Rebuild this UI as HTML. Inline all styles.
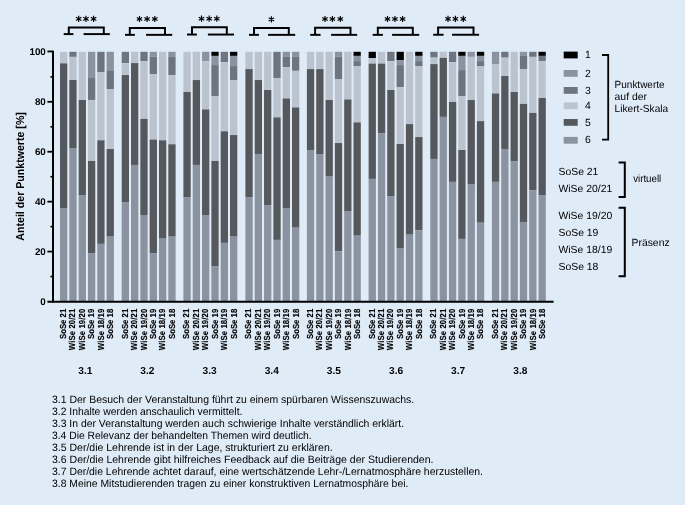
<!DOCTYPE html>
<html><head><meta charset="utf-8"><title>Chart</title>
<style>html,body{margin:0;padding:0;background:#dfebf7;}svg{display:block;will-change:transform;opacity:0.999;}text{font-family:"Liberation Sans",sans-serif;fill:#000;text-rendering:geometricPrecision;}.b{font-weight:bold;fill:#000;}</style>
</head><body>
<svg width="685" height="505" viewBox="0 0 685 505">
<rect x="0" y="0" width="685" height="505" fill="#dfebf7"/>
<g shape-rendering="auto">
<rect x="60.00" y="51.80" width="7.30" height="11.56" fill="#bbc4ce"/>
<rect x="60.00" y="63.36" width="7.30" height="144.67" fill="#55595d"/>
<rect x="60.00" y="208.02" width="7.30" height="93.38" fill="#8b93a0"/>
<rect x="69.32" y="51.80" width="7.30" height="5.08" fill="#6e757e"/>
<rect x="69.32" y="56.88" width="7.30" height="23.16" fill="#bbc4ce"/>
<rect x="69.32" y="80.04" width="7.30" height="67.98" fill="#55595d"/>
<rect x="69.32" y="148.02" width="7.30" height="153.38" fill="#8b93a0"/>
<rect x="78.64" y="51.80" width="7.30" height="48.16" fill="#bbc4ce"/>
<rect x="78.64" y="99.96" width="7.30" height="95.62" fill="#55595d"/>
<rect x="78.64" y="195.57" width="7.30" height="105.82" fill="#8b93a0"/>
<rect x="87.96" y="51.80" width="7.30" height="26.25" fill="#8b93a0"/>
<rect x="87.96" y="78.05" width="7.30" height="21.91" fill="#6e757e"/>
<rect x="87.96" y="99.96" width="7.30" height="61.01" fill="#bbc4ce"/>
<rect x="87.96" y="160.96" width="7.30" height="92.13" fill="#55595d"/>
<rect x="87.96" y="253.09" width="7.30" height="48.31" fill="#8b93a0"/>
<rect x="97.28" y="51.80" width="7.30" height="20.27" fill="#6e757e"/>
<rect x="97.28" y="72.07" width="7.30" height="68.23" fill="#bbc4ce"/>
<rect x="97.28" y="140.30" width="7.30" height="103.58" fill="#55595d"/>
<rect x="97.28" y="243.88" width="7.30" height="57.52" fill="#8b93a0"/>
<rect x="106.60" y="51.80" width="7.30" height="18.53" fill="#8b93a0"/>
<rect x="106.60" y="70.33" width="7.30" height="18.67" fill="#6e757e"/>
<rect x="106.60" y="89.00" width="7.30" height="60.01" fill="#bbc4ce"/>
<rect x="106.60" y="149.01" width="7.30" height="87.65" fill="#55595d"/>
<rect x="106.60" y="236.66" width="7.30" height="64.74" fill="#8b93a0"/>
<rect x="121.70" y="51.80" width="7.30" height="11.31" fill="#6e757e"/>
<rect x="121.70" y="63.11" width="7.30" height="11.95" fill="#bbc4ce"/>
<rect x="121.70" y="75.06" width="7.30" height="127.49" fill="#55595d"/>
<rect x="121.70" y="202.55" width="7.30" height="98.85" fill="#8b93a0"/>
<rect x="131.02" y="51.80" width="7.30" height="11.31" fill="#bbc4ce"/>
<rect x="131.02" y="63.11" width="7.30" height="101.84" fill="#55595d"/>
<rect x="131.02" y="164.95" width="7.30" height="136.45" fill="#8b93a0"/>
<rect x="140.34" y="51.80" width="7.30" height="9.31" fill="#6e757e"/>
<rect x="140.34" y="61.11" width="7.30" height="57.77" fill="#bbc4ce"/>
<rect x="140.34" y="118.88" width="7.30" height="96.11" fill="#55595d"/>
<rect x="140.34" y="215.00" width="7.30" height="86.40" fill="#8b93a0"/>
<rect x="149.66" y="51.80" width="7.30" height="4.83" fill="#8b93a0"/>
<rect x="149.66" y="56.63" width="7.30" height="17.43" fill="#6e757e"/>
<rect x="149.66" y="74.06" width="7.30" height="65.49" fill="#bbc4ce"/>
<rect x="149.66" y="139.55" width="7.30" height="113.54" fill="#55595d"/>
<rect x="149.66" y="253.09" width="7.30" height="48.31" fill="#8b93a0"/>
<rect x="158.98" y="51.80" width="7.30" height="88.50" fill="#bbc4ce"/>
<rect x="158.98" y="140.30" width="7.30" height="98.36" fill="#55595d"/>
<rect x="158.98" y="238.65" width="7.30" height="62.75" fill="#8b93a0"/>
<rect x="168.30" y="51.80" width="7.30" height="5.08" fill="#8b93a0"/>
<rect x="168.30" y="56.88" width="7.30" height="18.18" fill="#6e757e"/>
<rect x="168.30" y="75.06" width="7.30" height="69.22" fill="#bbc4ce"/>
<rect x="168.30" y="144.28" width="7.30" height="92.38" fill="#55595d"/>
<rect x="168.30" y="236.66" width="7.30" height="64.74" fill="#8b93a0"/>
<rect x="183.40" y="51.80" width="7.30" height="40.19" fill="#bbc4ce"/>
<rect x="183.40" y="91.99" width="7.30" height="105.08" fill="#55595d"/>
<rect x="183.40" y="197.07" width="7.30" height="104.33" fill="#8b93a0"/>
<rect x="192.72" y="51.80" width="7.30" height="28.24" fill="#bbc4ce"/>
<rect x="192.72" y="80.04" width="7.30" height="84.91" fill="#55595d"/>
<rect x="192.72" y="164.95" width="7.30" height="136.45" fill="#8b93a0"/>
<rect x="202.04" y="51.80" width="7.30" height="9.31" fill="#8b93a0"/>
<rect x="202.04" y="61.11" width="7.30" height="48.31" fill="#bbc4ce"/>
<rect x="202.04" y="109.42" width="7.30" height="105.58" fill="#55595d"/>
<rect x="202.04" y="215.00" width="7.30" height="86.40" fill="#8b93a0"/>
<rect x="211.36" y="51.80" width="7.30" height="4.09" fill="#000000"/>
<rect x="211.36" y="55.89" width="7.30" height="9.21" fill="#8b93a0"/>
<rect x="211.36" y="65.10" width="7.30" height="30.88" fill="#6e757e"/>
<rect x="211.36" y="95.97" width="7.30" height="64.99" fill="#bbc4ce"/>
<rect x="211.36" y="160.96" width="7.30" height="105.58" fill="#55595d"/>
<rect x="211.36" y="266.54" width="7.30" height="34.86" fill="#8b93a0"/>
<rect x="220.68" y="51.80" width="7.30" height="10.31" fill="#6e757e"/>
<rect x="220.68" y="62.11" width="7.30" height="69.22" fill="#bbc4ce"/>
<rect x="220.68" y="131.33" width="7.30" height="111.55" fill="#55595d"/>
<rect x="220.68" y="242.88" width="7.30" height="58.52" fill="#8b93a0"/>
<rect x="230.00" y="51.80" width="7.30" height="4.09" fill="#000000"/>
<rect x="230.00" y="55.89" width="7.30" height="10.21" fill="#8b93a0"/>
<rect x="230.00" y="66.09" width="7.30" height="13.94" fill="#6e757e"/>
<rect x="230.00" y="80.04" width="7.30" height="55.03" fill="#bbc4ce"/>
<rect x="230.00" y="135.07" width="7.30" height="101.59" fill="#55595d"/>
<rect x="230.00" y="236.66" width="7.30" height="64.74" fill="#8b93a0"/>
<rect x="245.40" y="51.80" width="7.30" height="17.28" fill="#bbc4ce"/>
<rect x="245.40" y="69.08" width="7.30" height="127.99" fill="#55595d"/>
<rect x="245.40" y="197.07" width="7.30" height="104.33" fill="#8b93a0"/>
<rect x="254.72" y="51.80" width="7.30" height="28.24" fill="#bbc4ce"/>
<rect x="254.72" y="80.04" width="7.30" height="73.95" fill="#55595d"/>
<rect x="254.72" y="153.99" width="7.30" height="147.41" fill="#8b93a0"/>
<rect x="264.04" y="51.80" width="7.30" height="38.20" fill="#bbc4ce"/>
<rect x="264.04" y="90.00" width="7.30" height="115.04" fill="#55595d"/>
<rect x="264.04" y="205.04" width="7.30" height="96.36" fill="#8b93a0"/>
<rect x="273.36" y="51.80" width="7.30" height="26.25" fill="#6e757e"/>
<rect x="273.36" y="78.05" width="7.30" height="39.34" fill="#bbc4ce"/>
<rect x="273.36" y="117.39" width="7.30" height="122.51" fill="#55595d"/>
<rect x="273.36" y="239.90" width="7.30" height="61.50" fill="#8b93a0"/>
<rect x="282.68" y="51.80" width="7.30" height="5.08" fill="#8b93a0"/>
<rect x="282.68" y="56.88" width="7.30" height="10.21" fill="#6e757e"/>
<rect x="282.68" y="67.09" width="7.30" height="31.37" fill="#bbc4ce"/>
<rect x="282.68" y="98.46" width="7.30" height="109.56" fill="#55595d"/>
<rect x="282.68" y="208.02" width="7.30" height="93.38" fill="#8b93a0"/>
<rect x="292.00" y="51.80" width="7.30" height="5.08" fill="#8b93a0"/>
<rect x="292.00" y="56.88" width="7.30" height="13.94" fill="#6e757e"/>
<rect x="292.00" y="70.83" width="7.30" height="36.60" fill="#bbc4ce"/>
<rect x="292.00" y="107.43" width="7.30" height="120.27" fill="#55595d"/>
<rect x="292.00" y="227.70" width="7.30" height="73.70" fill="#8b93a0"/>
<rect x="306.90" y="51.80" width="7.30" height="17.28" fill="#bbc4ce"/>
<rect x="306.90" y="69.08" width="7.30" height="80.93" fill="#55595d"/>
<rect x="306.90" y="150.01" width="7.30" height="151.39" fill="#8b93a0"/>
<rect x="316.22" y="51.80" width="7.30" height="17.28" fill="#bbc4ce"/>
<rect x="316.22" y="69.08" width="7.30" height="84.91" fill="#55595d"/>
<rect x="316.22" y="153.99" width="7.30" height="147.41" fill="#8b93a0"/>
<rect x="325.54" y="51.80" width="7.30" height="48.16" fill="#bbc4ce"/>
<rect x="325.54" y="99.96" width="7.30" height="76.69" fill="#55595d"/>
<rect x="325.54" y="176.65" width="7.30" height="124.75" fill="#8b93a0"/>
<rect x="334.86" y="51.80" width="7.30" height="4.83" fill="#8b93a0"/>
<rect x="334.86" y="56.63" width="7.30" height="22.41" fill="#6e757e"/>
<rect x="334.86" y="79.04" width="7.30" height="63.99" fill="#bbc4ce"/>
<rect x="334.86" y="143.04" width="7.30" height="108.31" fill="#55595d"/>
<rect x="334.86" y="251.35" width="7.30" height="50.05" fill="#8b93a0"/>
<rect x="344.18" y="51.80" width="7.30" height="47.66" fill="#bbc4ce"/>
<rect x="344.18" y="99.46" width="7.30" height="111.55" fill="#55595d"/>
<rect x="344.18" y="211.01" width="7.30" height="90.39" fill="#8b93a0"/>
<rect x="353.50" y="51.80" width="7.30" height="4.09" fill="#000000"/>
<rect x="353.50" y="55.89" width="7.30" height="5.23" fill="#8b93a0"/>
<rect x="353.50" y="61.11" width="7.30" height="4.98" fill="#6e757e"/>
<rect x="353.50" y="66.09" width="7.30" height="56.27" fill="#bbc4ce"/>
<rect x="353.50" y="122.37" width="7.30" height="113.30" fill="#55595d"/>
<rect x="353.50" y="235.66" width="7.30" height="65.74" fill="#8b93a0"/>
<rect x="368.60" y="51.80" width="7.30" height="6.33" fill="#000000"/>
<rect x="368.60" y="58.13" width="7.30" height="5.48" fill="#bbc4ce"/>
<rect x="368.60" y="63.60" width="7.30" height="115.29" fill="#55595d"/>
<rect x="368.60" y="178.89" width="7.30" height="122.51" fill="#8b93a0"/>
<rect x="377.92" y="51.80" width="7.30" height="11.80" fill="#bbc4ce"/>
<rect x="377.92" y="63.60" width="7.30" height="69.47" fill="#55595d"/>
<rect x="377.92" y="133.08" width="7.30" height="168.32" fill="#8b93a0"/>
<rect x="387.24" y="51.80" width="7.30" height="9.31" fill="#6e757e"/>
<rect x="387.24" y="61.11" width="7.30" height="28.88" fill="#bbc4ce"/>
<rect x="387.24" y="90.00" width="7.30" height="106.07" fill="#55595d"/>
<rect x="387.24" y="196.07" width="7.30" height="105.33" fill="#8b93a0"/>
<rect x="396.56" y="51.80" width="7.30" height="8.32" fill="#000000"/>
<rect x="396.56" y="60.12" width="7.30" height="4.98" fill="#8b93a0"/>
<rect x="396.56" y="65.10" width="7.30" height="22.16" fill="#6e757e"/>
<rect x="396.56" y="87.26" width="7.30" height="56.77" fill="#bbc4ce"/>
<rect x="396.56" y="144.03" width="7.30" height="104.58" fill="#55595d"/>
<rect x="396.56" y="248.61" width="7.30" height="52.79" fill="#8b93a0"/>
<rect x="405.88" y="51.80" width="7.30" height="72.31" fill="#bbc4ce"/>
<rect x="405.88" y="124.11" width="7.30" height="110.56" fill="#55595d"/>
<rect x="405.88" y="234.67" width="7.30" height="66.73" fill="#8b93a0"/>
<rect x="415.20" y="51.80" width="7.30" height="4.09" fill="#000000"/>
<rect x="415.20" y="55.89" width="7.30" height="5.23" fill="#8b93a0"/>
<rect x="415.20" y="61.11" width="7.30" height="4.98" fill="#6e757e"/>
<rect x="415.20" y="66.09" width="7.30" height="70.97" fill="#bbc4ce"/>
<rect x="415.20" y="137.06" width="7.30" height="93.13" fill="#55595d"/>
<rect x="415.20" y="230.19" width="7.30" height="71.21" fill="#8b93a0"/>
<rect x="430.30" y="51.80" width="7.30" height="5.83" fill="#6e757e"/>
<rect x="430.30" y="57.63" width="7.30" height="6.47" fill="#bbc4ce"/>
<rect x="430.30" y="64.10" width="7.30" height="94.87" fill="#55595d"/>
<rect x="430.30" y="158.97" width="7.30" height="142.43" fill="#8b93a0"/>
<rect x="439.62" y="51.80" width="7.30" height="6.08" fill="#bbc4ce"/>
<rect x="439.62" y="57.88" width="7.30" height="59.01" fill="#55595d"/>
<rect x="439.62" y="116.89" width="7.30" height="184.51" fill="#8b93a0"/>
<rect x="448.94" y="51.80" width="7.30" height="10.31" fill="#6e757e"/>
<rect x="448.94" y="62.11" width="7.30" height="39.84" fill="#bbc4ce"/>
<rect x="448.94" y="101.95" width="7.30" height="79.93" fill="#55595d"/>
<rect x="448.94" y="181.88" width="7.30" height="119.52" fill="#8b93a0"/>
<rect x="458.26" y="51.80" width="7.30" height="4.09" fill="#000000"/>
<rect x="458.26" y="55.89" width="7.30" height="14.19" fill="#8b93a0"/>
<rect x="458.26" y="70.08" width="7.30" height="25.90" fill="#6e757e"/>
<rect x="458.26" y="95.97" width="7.30" height="54.03" fill="#bbc4ce"/>
<rect x="458.26" y="150.01" width="7.30" height="88.89" fill="#55595d"/>
<rect x="458.26" y="238.90" width="7.30" height="62.50" fill="#8b93a0"/>
<rect x="467.58" y="51.80" width="7.30" height="5.08" fill="#8b93a0"/>
<rect x="467.58" y="56.88" width="7.30" height="43.08" fill="#bbc4ce"/>
<rect x="467.58" y="99.96" width="7.30" height="84.66" fill="#55595d"/>
<rect x="467.58" y="184.62" width="7.30" height="116.78" fill="#8b93a0"/>
<rect x="476.90" y="51.80" width="7.30" height="4.09" fill="#000000"/>
<rect x="476.90" y="55.89" width="7.30" height="5.23" fill="#8b93a0"/>
<rect x="476.90" y="61.11" width="7.30" height="5.23" fill="#6e757e"/>
<rect x="476.90" y="66.34" width="7.30" height="54.78" fill="#bbc4ce"/>
<rect x="476.90" y="121.12" width="7.30" height="101.59" fill="#55595d"/>
<rect x="476.90" y="222.72" width="7.30" height="78.68" fill="#8b93a0"/>
<rect x="491.90" y="51.80" width="7.30" height="12.30" fill="#8b93a0"/>
<rect x="491.90" y="64.10" width="7.30" height="29.38" fill="#bbc4ce"/>
<rect x="491.90" y="93.48" width="7.30" height="88.40" fill="#55595d"/>
<rect x="491.90" y="181.88" width="7.30" height="119.52" fill="#8b93a0"/>
<rect x="501.22" y="51.80" width="7.30" height="5.83" fill="#6e757e"/>
<rect x="501.22" y="57.63" width="7.30" height="18.43" fill="#bbc4ce"/>
<rect x="501.22" y="76.05" width="7.30" height="72.96" fill="#55595d"/>
<rect x="501.22" y="149.01" width="7.30" height="152.39" fill="#8b93a0"/>
<rect x="510.54" y="51.80" width="7.30" height="40.19" fill="#bbc4ce"/>
<rect x="510.54" y="91.99" width="7.30" height="69.47" fill="#55595d"/>
<rect x="510.54" y="161.46" width="7.30" height="139.94" fill="#8b93a0"/>
<rect x="519.86" y="51.80" width="7.30" height="4.09" fill="#8b93a0"/>
<rect x="519.86" y="55.89" width="7.30" height="13.20" fill="#6e757e"/>
<rect x="519.86" y="69.08" width="7.30" height="34.86" fill="#bbc4ce"/>
<rect x="519.86" y="103.94" width="7.30" height="118.03" fill="#55595d"/>
<rect x="519.86" y="221.97" width="7.30" height="79.43" fill="#8b93a0"/>
<rect x="529.18" y="51.80" width="7.30" height="5.08" fill="#6e757e"/>
<rect x="529.18" y="56.88" width="7.30" height="56.03" fill="#bbc4ce"/>
<rect x="529.18" y="112.91" width="7.30" height="77.44" fill="#55595d"/>
<rect x="529.18" y="190.35" width="7.30" height="111.05" fill="#8b93a0"/>
<rect x="538.50" y="51.80" width="7.30" height="4.09" fill="#000000"/>
<rect x="538.50" y="55.89" width="7.30" height="5.23" fill="#6e757e"/>
<rect x="538.50" y="61.11" width="7.30" height="36.85" fill="#bbc4ce"/>
<rect x="538.50" y="97.97" width="7.30" height="97.11" fill="#55595d"/>
<rect x="538.50" y="195.08" width="7.30" height="106.32" fill="#8b93a0"/>
</g>
<g stroke="#000" stroke-width="2" fill="none" stroke-linecap="butt">
<path d="M53 50.65V302.5"/>
<path d="M47.4 301.65H553.6"/>
<path stroke-width="1.6" d="M50.4 276.54H53"/>
<path stroke-width="1.8" d="M47.4 251.58H53"/>
<path stroke-width="1.6" d="M50.4 226.62H53"/>
<path stroke-width="1.8" d="M47.4 201.66H53"/>
<path stroke-width="1.6" d="M50.4 176.70H53"/>
<path stroke-width="1.8" d="M47.4 151.74H53"/>
<path stroke-width="1.6" d="M50.4 126.78H53"/>
<path stroke-width="1.8" d="M47.4 101.82H53"/>
<path stroke-width="1.6" d="M50.4 76.86H53"/>
<path stroke-width="1.8" d="M47.4 51.45H53"/>
</g>
<text class="b" x="45.8" y="304.90" font-size="9.8" text-anchor="end">0</text>
<text class="b" x="45.8" y="254.98" font-size="9.8" text-anchor="end">20</text>
<text class="b" x="45.8" y="205.06" font-size="9.8" text-anchor="end">40</text>
<text class="b" x="45.8" y="155.14" font-size="9.8" text-anchor="end">60</text>
<text class="b" x="45.8" y="105.22" font-size="9.8" text-anchor="end">80</text>
<text class="b" x="45.8" y="55.30" font-size="9.8" text-anchor="end">100</text>
<text class="b" font-size="10.62" text-anchor="middle" transform="translate(23.5 176.4) rotate(-90) scale(1 1.08)">Anteil der Punktwerte [%]</text>
<text class="b" font-size="7.8" text-anchor="end" stroke="#000" stroke-width="0.1" transform="translate(66.05 308.7) rotate(-90) scale(1 1.12)">SoSe 21</text>
<text class="b" font-size="7.8" text-anchor="end" textLength="41.5" lengthAdjust="spacing" stroke="#000" stroke-width="0.1" transform="translate(75.46 308.7) rotate(-90) scale(1 1.12)">WiSe 20/21</text>
<text class="b" font-size="7.8" text-anchor="end" textLength="41.5" lengthAdjust="spacing" stroke="#000" stroke-width="0.1" transform="translate(84.87 308.7) rotate(-90) scale(1 1.12)">WiSe 19/20</text>
<text class="b" font-size="7.8" text-anchor="end" stroke="#000" stroke-width="0.1" transform="translate(94.28 308.7) rotate(-90) scale(1 1.12)">SoSe 19</text>
<text class="b" font-size="7.8" text-anchor="end" textLength="41.5" lengthAdjust="spacing" stroke="#000" stroke-width="0.1" transform="translate(103.69 308.7) rotate(-90) scale(1 1.12)">WiSe 18/19</text>
<text class="b" font-size="7.8" text-anchor="end" stroke="#000" stroke-width="0.1" transform="translate(113.10 308.7) rotate(-90) scale(1 1.12)">SoSe 18</text>
<text class="b" font-size="10.2" text-anchor="middle" transform="translate(85.30 373.9)">3.1</text>
<g stroke="#000" stroke-width="1.95" fill="none"><path d="M63.70 34.10H73.40"/><path d="M83.60 34.10H109.85"/><path d="M68.80 34.10V27.40H103.80V34.10"/></g>
<path stroke="#000" stroke-width="1.15" fill="none" d="M78.70 15.80V22.00M76.00 17.35L81.40 20.45M76.00 20.45L81.40 17.35"/>
<path stroke="#000" stroke-width="1.15" fill="none" d="M85.95 15.80V22.00M83.25 17.35L88.65 20.45M83.25 20.45L88.65 17.35"/>
<path stroke="#000" stroke-width="1.15" fill="none" d="M93.60 15.80V22.00M90.90 17.35L96.30 20.45M90.90 20.45L96.30 17.35"/>
<text class="b" font-size="7.8" text-anchor="end" stroke="#000" stroke-width="0.1" transform="translate(127.75 308.7) rotate(-90) scale(1 1.12)">SoSe 21</text>
<text class="b" font-size="7.8" text-anchor="end" textLength="41.5" lengthAdjust="spacing" stroke="#000" stroke-width="0.1" transform="translate(137.16 308.7) rotate(-90) scale(1 1.12)">WiSe 20/21</text>
<text class="b" font-size="7.8" text-anchor="end" textLength="41.5" lengthAdjust="spacing" stroke="#000" stroke-width="0.1" transform="translate(146.57 308.7) rotate(-90) scale(1 1.12)">WiSe 19/20</text>
<text class="b" font-size="7.8" text-anchor="end" stroke="#000" stroke-width="0.1" transform="translate(155.98 308.7) rotate(-90) scale(1 1.12)">SoSe 19</text>
<text class="b" font-size="7.8" text-anchor="end" textLength="41.5" lengthAdjust="spacing" stroke="#000" stroke-width="0.1" transform="translate(165.39 308.7) rotate(-90) scale(1 1.12)">WiSe 18/19</text>
<text class="b" font-size="7.8" text-anchor="end" stroke="#000" stroke-width="0.1" transform="translate(174.80 308.7) rotate(-90) scale(1 1.12)">SoSe 18</text>
<text class="b" font-size="10.2" text-anchor="middle" transform="translate(147.45 373.9)">3.2</text>
<g stroke="#000" stroke-width="1.95" fill="none"><path d="M125.00 34.85H134.90"/><path d="M146.10 34.85H172.20"/><path d="M129.80 34.85V27.90H165.00V34.85"/></g>
<path stroke="#000" stroke-width="1.15" fill="none" d="M139.50 15.90V22.10M136.80 17.45L142.20 20.55M136.80 20.55L142.20 17.45"/>
<path stroke="#000" stroke-width="1.15" fill="none" d="M147.10 15.90V22.10M144.40 17.45L149.80 20.55M144.40 20.55L149.80 17.45"/>
<path stroke="#000" stroke-width="1.15" fill="none" d="M154.80 15.90V22.10M152.10 17.45L157.50 20.55M152.10 20.55L157.50 17.45"/>
<text class="b" font-size="7.8" text-anchor="end" stroke="#000" stroke-width="0.1" transform="translate(189.45 308.7) rotate(-90) scale(1 1.12)">SoSe 21</text>
<text class="b" font-size="7.8" text-anchor="end" textLength="41.5" lengthAdjust="spacing" stroke="#000" stroke-width="0.1" transform="translate(198.86 308.7) rotate(-90) scale(1 1.12)">WiSe 20/21</text>
<text class="b" font-size="7.8" text-anchor="end" textLength="41.5" lengthAdjust="spacing" stroke="#000" stroke-width="0.1" transform="translate(208.27 308.7) rotate(-90) scale(1 1.12)">WiSe 19/20</text>
<text class="b" font-size="7.8" text-anchor="end" stroke="#000" stroke-width="0.1" transform="translate(217.68 308.7) rotate(-90) scale(1 1.12)">SoSe 19</text>
<text class="b" font-size="7.8" text-anchor="end" textLength="41.5" lengthAdjust="spacing" stroke="#000" stroke-width="0.1" transform="translate(227.09 308.7) rotate(-90) scale(1 1.12)">WiSe 18/19</text>
<text class="b" font-size="7.8" text-anchor="end" stroke="#000" stroke-width="0.1" transform="translate(236.50 308.7) rotate(-90) scale(1 1.12)">SoSe 18</text>
<text class="b" font-size="10.2" text-anchor="middle" transform="translate(209.60 373.9)">3.3</text>
<g stroke="#000" stroke-width="1.95" fill="none"><path d="M187.00 34.55H196.90"/><path d="M207.90 34.55H234.00"/><path d="M192.00 34.55V27.20H226.80V34.55"/></g>
<path stroke="#000" stroke-width="1.15" fill="none" d="M201.50 15.60V21.80M198.80 17.15L204.20 20.25M198.80 20.25L204.20 17.15"/>
<path stroke="#000" stroke-width="1.15" fill="none" d="M209.20 15.60V21.80M206.50 17.15L211.90 20.25M206.50 20.25L211.90 17.15"/>
<path stroke="#000" stroke-width="1.15" fill="none" d="M216.80 15.60V21.80M214.10 17.15L219.50 20.25M214.10 20.25L219.50 17.15"/>
<text class="b" font-size="7.8" text-anchor="end" stroke="#000" stroke-width="0.1" transform="translate(251.45 308.7) rotate(-90) scale(1 1.12)">SoSe 21</text>
<text class="b" font-size="7.8" text-anchor="end" textLength="41.5" lengthAdjust="spacing" stroke="#000" stroke-width="0.1" transform="translate(260.86 308.7) rotate(-90) scale(1 1.12)">WiSe 20/21</text>
<text class="b" font-size="7.8" text-anchor="end" textLength="41.5" lengthAdjust="spacing" stroke="#000" stroke-width="0.1" transform="translate(270.27 308.7) rotate(-90) scale(1 1.12)">WiSe 19/20</text>
<text class="b" font-size="7.8" text-anchor="end" stroke="#000" stroke-width="0.1" transform="translate(279.68 308.7) rotate(-90) scale(1 1.12)">SoSe 19</text>
<text class="b" font-size="7.8" text-anchor="end" textLength="41.5" lengthAdjust="spacing" stroke="#000" stroke-width="0.1" transform="translate(289.09 308.7) rotate(-90) scale(1 1.12)">WiSe 18/19</text>
<text class="b" font-size="7.8" text-anchor="end" stroke="#000" stroke-width="0.1" transform="translate(298.50 308.7) rotate(-90) scale(1 1.12)">SoSe 18</text>
<text class="b" font-size="10.2" text-anchor="middle" transform="translate(271.75 373.9)">3.4</text>
<g stroke="#000" stroke-width="1.95" fill="none"><path d="M249.00 34.85H258.90"/><path d="M268.10 34.85H295.20"/><path d="M254.00 34.85V27.90H288.80V34.85"/></g>
<path stroke="#000" stroke-width="1.15" fill="none" d="M271.40 16.30V22.50M268.70 17.85L274.10 20.95M268.70 20.95L274.10 17.85"/>
<text class="b" font-size="7.8" text-anchor="end" stroke="#000" stroke-width="0.1" transform="translate(312.95 308.7) rotate(-90) scale(1 1.12)">SoSe 21</text>
<text class="b" font-size="7.8" text-anchor="end" textLength="41.5" lengthAdjust="spacing" stroke="#000" stroke-width="0.1" transform="translate(322.36 308.7) rotate(-90) scale(1 1.12)">WiSe 20/21</text>
<text class="b" font-size="7.8" text-anchor="end" textLength="41.5" lengthAdjust="spacing" stroke="#000" stroke-width="0.1" transform="translate(331.77 308.7) rotate(-90) scale(1 1.12)">WiSe 19/20</text>
<text class="b" font-size="7.8" text-anchor="end" stroke="#000" stroke-width="0.1" transform="translate(341.18 308.7) rotate(-90) scale(1 1.12)">SoSe 19</text>
<text class="b" font-size="7.8" text-anchor="end" textLength="41.5" lengthAdjust="spacing" stroke="#000" stroke-width="0.1" transform="translate(350.59 308.7) rotate(-90) scale(1 1.12)">WiSe 18/19</text>
<text class="b" font-size="7.8" text-anchor="end" stroke="#000" stroke-width="0.1" transform="translate(360.00 308.7) rotate(-90) scale(1 1.12)">SoSe 18</text>
<text class="b" font-size="10.2" text-anchor="middle" transform="translate(333.90 373.9)">3.5</text>
<g stroke="#000" stroke-width="1.95" fill="none"><path d="M310.20 34.85H320.60"/><path d="M331.10 34.85H357.20"/><path d="M315.10 34.85V27.70H350.50V34.85"/></g>
<path stroke="#000" stroke-width="1.15" fill="none" d="M325.00 15.90V22.10M322.30 17.45L327.70 20.55M322.30 20.55L327.70 17.45"/>
<path stroke="#000" stroke-width="1.15" fill="none" d="M332.40 15.90V22.10M329.70 17.45L335.10 20.55M329.70 20.55L335.10 17.45"/>
<path stroke="#000" stroke-width="1.15" fill="none" d="M340.30 15.90V22.10M337.60 17.45L343.00 20.55M337.60 20.55L343.00 17.45"/>
<text class="b" font-size="7.8" text-anchor="end" stroke="#000" stroke-width="0.1" transform="translate(374.65 308.7) rotate(-90) scale(1 1.12)">SoSe 21</text>
<text class="b" font-size="7.8" text-anchor="end" textLength="41.5" lengthAdjust="spacing" stroke="#000" stroke-width="0.1" transform="translate(384.06 308.7) rotate(-90) scale(1 1.12)">WiSe 20/21</text>
<text class="b" font-size="7.8" text-anchor="end" textLength="41.5" lengthAdjust="spacing" stroke="#000" stroke-width="0.1" transform="translate(393.47 308.7) rotate(-90) scale(1 1.12)">WiSe 19/20</text>
<text class="b" font-size="7.8" text-anchor="end" stroke="#000" stroke-width="0.1" transform="translate(402.88 308.7) rotate(-90) scale(1 1.12)">SoSe 19</text>
<text class="b" font-size="7.8" text-anchor="end" textLength="41.5" lengthAdjust="spacing" stroke="#000" stroke-width="0.1" transform="translate(412.29 308.7) rotate(-90) scale(1 1.12)">WiSe 18/19</text>
<text class="b" font-size="7.8" text-anchor="end" stroke="#000" stroke-width="0.1" transform="translate(421.70 308.7) rotate(-90) scale(1 1.12)">SoSe 18</text>
<text class="b" font-size="10.2" text-anchor="middle" transform="translate(396.05 373.9)">3.6</text>
<g stroke="#000" stroke-width="1.95" fill="none"><path d="M372.70 34.85H382.90"/><path d="M392.10 34.85H419.20"/><path d="M377.80 34.85V27.70H412.80V34.85"/></g>
<path stroke="#000" stroke-width="1.15" fill="none" d="M387.50 15.90V22.10M384.80 17.45L390.20 20.55M384.80 20.55L390.20 17.45"/>
<path stroke="#000" stroke-width="1.15" fill="none" d="M394.95 15.90V22.10M392.25 17.45L397.65 20.55M392.25 20.55L397.65 17.45"/>
<path stroke="#000" stroke-width="1.15" fill="none" d="M402.60 15.90V22.10M399.90 17.45L405.30 20.55M399.90 20.55L405.30 17.45"/>
<text class="b" font-size="7.8" text-anchor="end" stroke="#000" stroke-width="0.1" transform="translate(436.35 308.7) rotate(-90) scale(1 1.12)">SoSe 21</text>
<text class="b" font-size="7.8" text-anchor="end" textLength="41.5" lengthAdjust="spacing" stroke="#000" stroke-width="0.1" transform="translate(445.76 308.7) rotate(-90) scale(1 1.12)">WiSe 20/21</text>
<text class="b" font-size="7.8" text-anchor="end" textLength="41.5" lengthAdjust="spacing" stroke="#000" stroke-width="0.1" transform="translate(455.17 308.7) rotate(-90) scale(1 1.12)">WiSe 19/20</text>
<text class="b" font-size="7.8" text-anchor="end" stroke="#000" stroke-width="0.1" transform="translate(464.58 308.7) rotate(-90) scale(1 1.12)">SoSe 19</text>
<text class="b" font-size="7.8" text-anchor="end" textLength="41.5" lengthAdjust="spacing" stroke="#000" stroke-width="0.1" transform="translate(473.99 308.7) rotate(-90) scale(1 1.12)">WiSe 18/19</text>
<text class="b" font-size="7.8" text-anchor="end" stroke="#000" stroke-width="0.1" transform="translate(483.40 308.7) rotate(-90) scale(1 1.12)">SoSe 18</text>
<text class="b" font-size="10.2" text-anchor="middle" transform="translate(458.20 373.9)">3.7</text>
<g stroke="#000" stroke-width="1.95" fill="none"><path d="M433.20 34.75H443.60"/><path d="M452.10 34.75H479.10"/><path d="M438.10 34.75V27.40H473.50V34.75"/></g>
<path stroke="#000" stroke-width="1.15" fill="none" d="M448.00 15.80V22.00M445.30 17.35L450.70 20.45M445.30 20.45L450.70 17.35"/>
<path stroke="#000" stroke-width="1.15" fill="none" d="M455.40 15.80V22.00M452.70 17.35L458.10 20.45M452.70 20.45L458.10 17.35"/>
<path stroke="#000" stroke-width="1.15" fill="none" d="M463.30 15.80V22.00M460.60 17.35L466.00 20.45M460.60 20.45L466.00 17.35"/>
<text class="b" font-size="7.8" text-anchor="end" stroke="#000" stroke-width="0.1" transform="translate(497.95 308.7) rotate(-90) scale(1 1.12)">SoSe 21</text>
<text class="b" font-size="7.8" text-anchor="end" textLength="41.5" lengthAdjust="spacing" stroke="#000" stroke-width="0.1" transform="translate(507.36 308.7) rotate(-90) scale(1 1.12)">WiSe 20/21</text>
<text class="b" font-size="7.8" text-anchor="end" textLength="41.5" lengthAdjust="spacing" stroke="#000" stroke-width="0.1" transform="translate(516.77 308.7) rotate(-90) scale(1 1.12)">WiSe 19/20</text>
<text class="b" font-size="7.8" text-anchor="end" stroke="#000" stroke-width="0.1" transform="translate(526.18 308.7) rotate(-90) scale(1 1.12)">SoSe 19</text>
<text class="b" font-size="7.8" text-anchor="end" textLength="41.5" lengthAdjust="spacing" stroke="#000" stroke-width="0.1" transform="translate(535.59 308.7) rotate(-90) scale(1 1.12)">WiSe 18/19</text>
<text class="b" font-size="7.8" text-anchor="end" stroke="#000" stroke-width="0.1" transform="translate(545.00 308.7) rotate(-90) scale(1 1.12)">SoSe 18</text>
<text class="b" font-size="10.2" text-anchor="middle" transform="translate(520.35 373.9)">3.8</text>
<text font-size="10.4" transform="translate(52 403.00) scale(1 1.03)" textLength="362.20" lengthAdjust="spacingAndGlyphs">3.1 Der Besuch der Veranstaltung führt zu einem spürbaren Wissenszuwachs.</text>
<text font-size="10.4" transform="translate(52 414.98) scale(1 1.03)" textLength="190.40" lengthAdjust="spacingAndGlyphs">3.2 Inhalte werden anschaulich vermittelt.</text>
<text font-size="10.4" transform="translate(52 426.96) scale(1 1.03)" textLength="352.05" lengthAdjust="spacingAndGlyphs">3.3 In der Veranstaltung werden auch schwierige Inhalte verständlich erklärt.</text>
<text font-size="10.4" transform="translate(52 438.94) scale(1 1.03)" textLength="259.70" lengthAdjust="spacingAndGlyphs">3.4 Die Relevanz der behandelten Themen wird deutlich.</text>
<text font-size="10.4" transform="translate(52 450.92) scale(1 1.03)" textLength="280.70" lengthAdjust="spacingAndGlyphs">3.5 Der/die Lehrende ist in der Lage, strukturiert zu erklären.</text>
<text font-size="10.4" transform="translate(52 462.90) scale(1 1.03)" textLength="381.50" lengthAdjust="spacingAndGlyphs">3.6 Der/die Lehrende gibt hilfreiches Feedback auf die Beiträge der Studierenden.</text>
<text font-size="10.4" transform="translate(52 474.88) scale(1 1.03)" textLength="430.95" lengthAdjust="spacingAndGlyphs">3.7 Der/die Lehrende achtet darauf, eine wertschätzende Lehr-/Lernatmosphäre herzustellen.</text>
<text font-size="10.4" transform="translate(52 486.86) scale(1 1.03)" textLength="356.35" lengthAdjust="spacingAndGlyphs">3.8 Meine Mitstudierenden tragen zu einer konstruktiven Lernatmosphäre bei.</text>
<rect x="563.7" y="51.60" width="14" height="6.8" fill="#000000"/>
<text font-size="10.4" x="585" y="58.15">1</text>
<rect x="563.7" y="70.00" width="14" height="6.8" fill="#8b93a0"/>
<text font-size="10.4" x="585" y="76.55">2</text>
<rect x="563.7" y="87.00" width="14" height="6.8" fill="#6e757e"/>
<text font-size="10.4" x="585" y="93.55">3</text>
<rect x="563.7" y="102.40" width="14" height="6.8" fill="#bbc4ce"/>
<text font-size="10.4" x="585" y="108.95">4</text>
<rect x="563.7" y="119.00" width="14" height="6.8" fill="#55595d"/>
<text font-size="10.4" x="585" y="125.55">5</text>
<rect x="563.7" y="136.90" width="14" height="6.8" fill="#8b93a0"/>
<text font-size="10.4" x="585" y="143.45">6</text>
<g stroke="#000" fill="none">
<path stroke-width="1.8" d="M602 55H608.2V139.7H602"/>
<path stroke-width="2" d="M618.6 162.6H624.8V197H618.6"/>
<path stroke-width="2" d="M618.6 207.7H624.8V276.2H618.6"/>
</g>
<text font-size="10.4" x="614.6" y="87.7" textLength="50" lengthAdjust="spacingAndGlyphs">Punktwerte</text>
<text font-size="10.4" x="614.6" y="99.9">auf der</text>
<text font-size="10.4" x="614.6" y="111.7" textLength="53.6" lengthAdjust="spacingAndGlyphs">Likert-Skala</text>
<text font-size="10.4" x="558.5" y="174.6">SoSe 21</text>
<text font-size="10.4" x="558.5" y="191.5">WiSe 20/21</text>
<text font-size="10.4" x="633.2" y="181.6" textLength="28" lengthAdjust="spacingAndGlyphs">virtuell</text>
<text font-size="10.4" x="558.5" y="219.00">WiSe 19/20</text>
<text font-size="10.4" x="558.5" y="236.15">SoSe 19</text>
<text font-size="10.4" x="558.5" y="253.30">WiSe 18/19</text>
<text font-size="10.4" x="558.5" y="270.45">SoSe 18</text>
<text font-size="10.4" x="631.5" y="245.6">Präsenz</text>
</svg></body></html>
